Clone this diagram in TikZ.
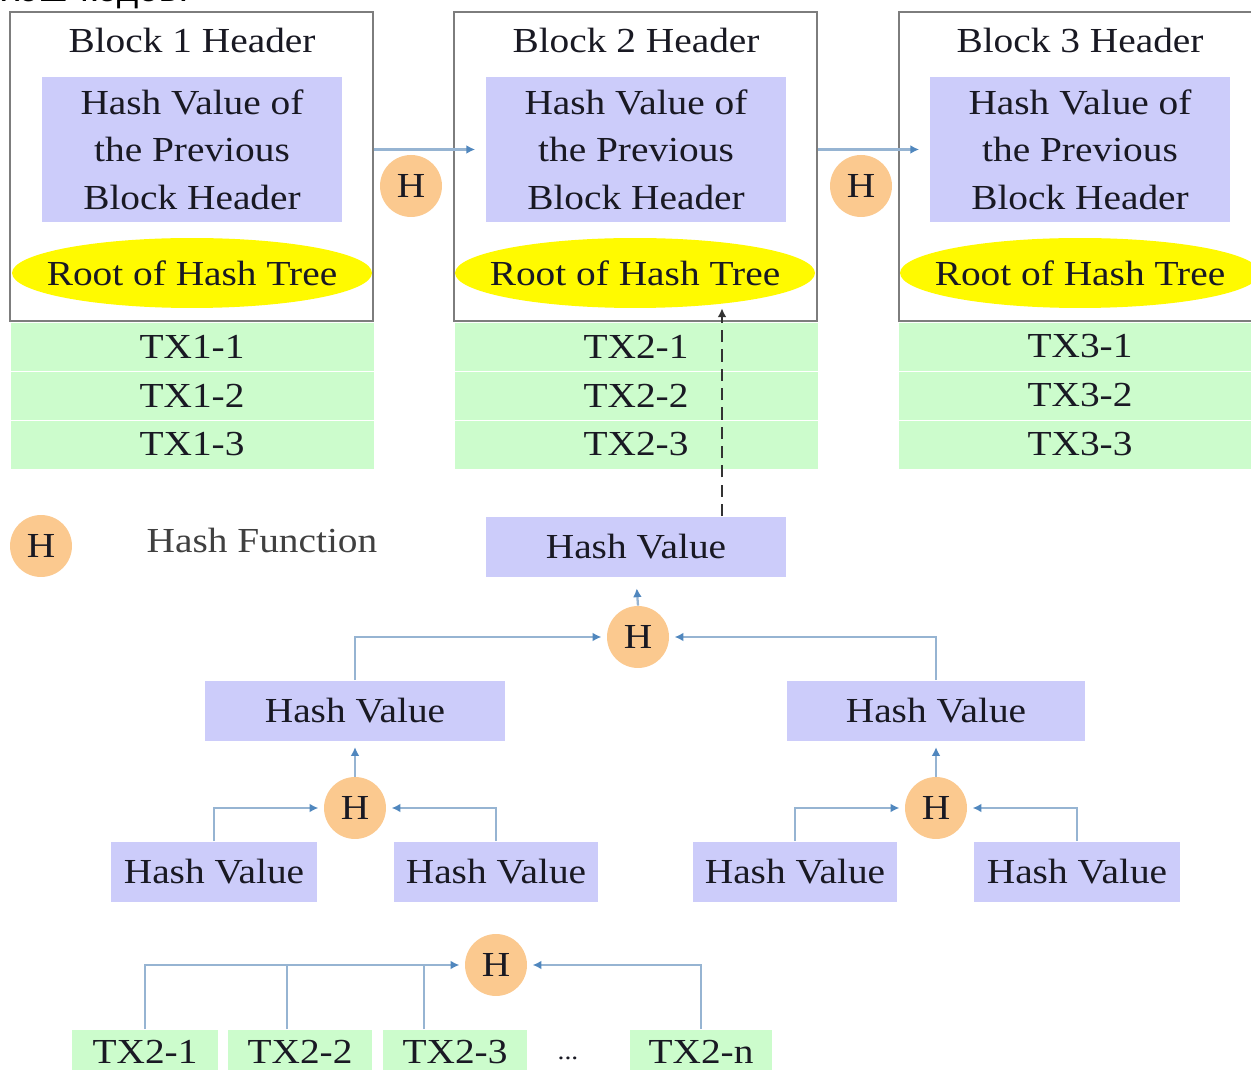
\documentclass[tikz,border=0pt]{standalone}
\usepackage{fontspec}
\setmainfont{Liberation Serif}[FakeStretch=1.12]
\newfontfamily\cyrfont{Liberation Sans}
\usetikzlibrary{shapes.geometric,arrows.meta}

\definecolor{hashblue}{RGB}{204,204,250}
\definecolor{txgreen}{RGB}{204,252,204}
\definecolor{rootyellow}{RGB}{255,250,0}
\definecolor{hfunorange}{RGB}{251,201,143}
\definecolor{linkblue}{RGB}{150,180,210}
\definecolor{tipblue}{RGB}{80,135,190}
\definecolor{blockgray}{RGB}{125,125,125}
\definecolor{textdark}{RGB}{25,25,35}

\tikzset{
  blockbox/.style={draw=blockgray, line width=1.1pt, fill=white, minimum width=7.26cm, minimum height=6.18cm, inner sep=0},
  prevbox/.style={fill=hashblue, minimum width=6cm, minimum height=2.9cm, align=center, inner sep=0},
  rootoval/.style={ellipse, fill=rootyellow, minimum width=7.2cm, minimum height=1.4cm, inner sep=0},
  txrow/.style={fill=txgreen, draw=white, line width=0.4pt, minimum width=7.28cm, minimum height=0.98cm, inner sep=0},
  hashbox/.style={fill=hashblue, minimum height=1.22cm, inner sep=0},
  hfun/.style={circle, fill=hfunorange, minimum size=1.24cm, inner sep=0},
  txbox/.style={fill=txgreen, minimum height=0.9cm, inner sep=0},
  link/.style={draw=linkblue, line width=1.3pt, -{Latex[length=5pt,width=5pt,color=tipblue]}, shorten >=3pt},
  joinline/.style={draw=linkblue, line width=1.3pt},
  rootlink/.style={draw=black!80, line width=1.1pt, dash pattern=on 7pt off 4pt, -{Latex[length=5pt,width=5pt]}}
}

\begin{document}
\begin{tikzpicture}[x=0.02cm, y=-0.02cm, font=\fontsize{20}{27}\selectfont, text=textdark]
    \useasboundingbox (0,0) rectangle (1251,1070);
    \node[anchor=base west, inner sep=0, font=\cyrfont\fontsize{21}{25}\selectfont, text=black] (caption) at (1,2) {хэш-кодов.};

    % block headers
    \node[blockbox] (blk1) at (191.5,166.5) {};
    \node[blockbox] (blk2) at (635.5,166.5) {};
    \node[blockbox] (blk3) at (1080,166.5) {};
    \node (head1) at (192,40) {Block 1 Header};
    \node (head2) at (636,40) {Block 2 Header};
    \node (head3) at (1080,40) {Block 3 Header};
    \node[prevbox] (prev1) at (192,149.5) {Hash Value of\\the Previous\\Block Header};
    \node[prevbox] (prev2) at (636,149.5) {Hash Value of\\the Previous\\Block Header};
    \node[prevbox] (prev3) at (1080,149.5) {Hash Value of\\the Previous\\Block Header};
    \node[rootoval, label=center:Root of Hash Tree] (root1) at (192,273) {};
    \node[rootoval, label=center:Root of Hash Tree] (root2) at (635,273) {};
    \node[rootoval, label=center:Root of Hash Tree] (root3) at (1080,273) {};

    % transactions
    \node[txrow] (tx11) at (192,346.5) {TX1-1};
    \node[txrow] (tx12) at (192,395.5) {TX1-2};
    \node[txrow] (tx13) at (192,444.5) {TX1-3};
    \node[txrow] (tx21) at (636,346.5) {TX2-1};
    \node[txrow] (tx22) at (636,395.5) {TX2-2};
    \node[txrow] (tx23) at (636,444.5) {TX2-3};
    \node[txrow] (tx31) at (1080,346.5) {TX3-1};
    \node[txrow] (tx32) at (1080,395.5) {TX3-2};
    \node[txrow] (tx33) at (1080,444.5) {TX3-3};

    % chain
    \node[hfun] (hblk1) at (411,186) {H};
    \node[hfun] (hblk2) at (861,186) {H};
    \draw[link, shorten >=6pt] (blk1.east |- prev2.west) -- (prev2.west);
    \draw[link, shorten >=6pt] (blk2.east |- prev3.west) -- (prev3.west);

    % legend
    \node[hfun] (hleg) at (41,546) {H};
    \node[text=black!75] (legtext) at (262,540) {Hash Function};

    % hash tree
    \node[hashbox, minimum width=6cm] (hv0) at (636,547) {Hash Value};
    \node[hfun] (h0) at (638,637) {H};
    \node[hashbox, minimum width=6cm] (hv1) at (355,711) {Hash Value};
    \node[hashbox, minimum width=5.96cm] (hv2) at (936,711) {Hash Value};
    \node[hfun] (h1) at (355,808) {H};
    \node[hfun] (h2) at (936,808) {H};
    \node[hashbox, minimum width=4.14cm] (hv11) at (214,872) {Hash Value};
    \node[hashbox, minimum width=4.1cm] (hv12) at (496,872) {Hash Value};
    \node[hashbox, minimum width=4.1cm] (hv21) at (795,872) {Hash Value};
    \node[hashbox, minimum width=4.14cm] (hv22) at (1077,872) {Hash Value};
    \node[hfun] (h3) at (496,965) {H};
    \node[txbox, minimum width=2.92cm] (t1) at (145,1052) {TX2-1};
    \node[txbox, minimum width=2.88cm] (t2) at (300,1052) {TX2-2};
    \node[txbox, minimum width=2.9cm] (t3) at (455,1052) {TX2-3};
    \node[font=\fontsize{14}{16}\selectfont] (dots) at (568,1058) {...};
    \node[txbox, minimum width=2.84cm] (tn) at (701,1052) {TX2-n};

    \draw[link, shorten >=6pt] (h0.north) -- (hv0.south);
    \draw[link] (hv1.north) |- (h0.west);
    \draw[link] (hv2.north) |- (h0.east);
    \draw[link] (h1.north) -- (hv1.south);
    \draw[link] (h2.north) -- (hv2.south);
    \draw[link] (hv11.north) |- (h1.west);
    \draw[link] (hv12.north) |- (h1.east);
    \draw[link] (hv21.north) |- (h2.west);
    \draw[link] (hv22.north) |- (h2.east);
    \draw[link] (t1.north) |- (h3.west);
    \draw[link] (tn.north) |- (h3.east);
    \path ([xshift=-0.26cm]t2.north) coordinate (c2);
    \path ([xshift=-0.62cm]t3.north) coordinate (c3);
    \draw[joinline] (c2) -- (c2 |- h3);
    \draw[joinline] (c3) -- (c3 |- h3);

    % root link
    \coordinate (dashx) at (722,0);
    \draw[rootlink] (hv0.north -| dashx) -- (root2.south -| dashx);
\end{tikzpicture}
\end{document}
